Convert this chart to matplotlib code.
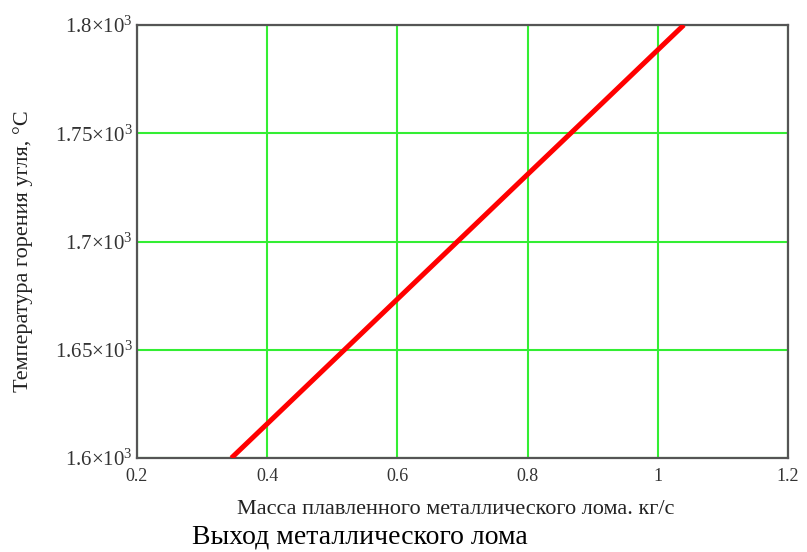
import numpy as np
import matplotlib.pyplot as plt

plt.rcParams["font.family"] = ["Liberation Serif", "DejaVu Serif"]
plt.rcParams["mathtext.fontset"] = "custom"
plt.rcParams["mathtext.rm"] = "Liberation Serif"
plt.rcParams["mathtext.it"] = "Liberation Serif:italic"

# data
mass = [0.345, 0.4, 0.5, 0.6, 0.7, 0.8, 0.9, 1.0, 1.04]
temp = [1600, 1615.8, 1644.6, 1673.4, 1702.2, 1731.0, 1759.7, 1788.5, 1800]

x_ticks = [0.2, 0.4, 0.6, 0.8, 1.0, 1.2]
x_labels = ["0.2", "0.4", "0.6", "0.8", "1", "1.2"]
y_ticks = [1600, 1650, 1700, 1750, 1800]
y_labels = ["1.6×10$^{3}$", "1.65×10$^{3}$", "1.7×10$^{3}$",
            "1.75×10$^{3}$", "1.8×10$^{3}$"]

fig = plt.figure(figsize=(8.07, 5.52), dpi=100)
ax = fig.add_axes([137 / 807, 1 - 458 / 552, 651 / 807, 433 / 552])

ax.plot(mass, temp, color="#ff0000", lw=3.6, solid_capstyle="butt", zorder=3)

ax.set_xlim(0.2, 1.2)
ax.set_ylim(1600, 1800)
ax.set_xticks(x_ticks)
ax.set_xticklabels(x_labels)
ax.set_yticks(y_ticks)
ax.set_yticklabels(y_labels)
ax.tick_params(length=0, colors="#333333")
ax.tick_params(axis="x", labelsize=13, pad=7)
ax.tick_params(axis="y", labelsize=15, pad=3)

ax.grid(True, color="#33ee33", lw=1.5)
for s in ax.spines.values():
    s.set_color("#555555")
    s.set_linewidth(1.6)

ax.set_ylabel("Температура горения угля, °С", fontsize=16, color="#222222",
              va="center")
ax.yaxis.set_label_coords((23 - 137) / 651, (458 - 251) / 433)
ax.set_xlabel("Масса плавленного металлического лома. кг/с", fontsize=16,
              color="#222222", va="center")
ax.xaxis.set_label_coords((456 - 137) / 651, (458 - 510) / 433)

fig.text(360 / 807, 1 - 537 / 552, "Выход металлического лома", fontsize=20,
         ha="center", va="center", color="black")

fig.savefig("out.png", dpi=100)
